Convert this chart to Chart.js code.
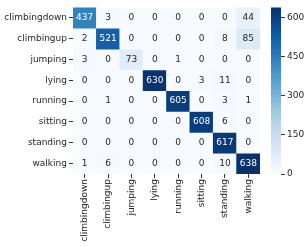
<!DOCTYPE html>
<html>
<head>
<meta charset="utf-8">
<script src="https://cdn.jsdelivr.net/npm/chart.js@4/dist/chart.umd.min.js"></script>
<style>
  body { margin: 0; background: #fff; }
  #wrap { position: relative; width: 306px; height: 247px; }
  canvas { position: absolute; top: 0; }
</style>
</head>
<body>
<div id="wrap">
  <canvas id="heat" width="306" height="247" style="left:0"></canvas>
  <canvas id="cbar" width="44" height="247" style="left:262px"></canvas>
</div>
<script>
// labels (rows = true, cols = predicted)
const classes = ["climbingdown", "climbingup", "jumping", "lying", "running", "sitting", "standing", "walking"];

// confusion matrix rows
const climbingdown = [437, 3, 0, 0, 0, 0, 0, 44];
const climbingup = [2, 521, 0, 0, 0, 0, 8, 85];
const jumping = [3, 0, 73, 0, 1, 0, 0, 0];
const lying = [0, 0, 0, 630, 0, 3, 11, 0];
const running = [0, 1, 0, 0, 605, 0, 3, 1];
const sitting = [0, 0, 0, 0, 0, 608, 6, 0];
const standing = [0, 0, 0, 0, 0, 0, 617, 0];
const walking = [1, 6, 0, 0, 0, 0, 10, 638];
const matrix = [climbingdown, climbingup, jumping, lying, running, sitting, standing, walking];

// colorbar ticks
const cbarTicks = [0, 150, 300, 450, 600];

const vmax = Math.max(...matrix.flat());
const font = { family: "DejaVu Sans", size: 9 };
const textDark = "#262626";

// matplotlib Blues
const blues = [
  [247, 251, 255], [222, 235, 247], [198, 219, 239], [158, 202, 225],
  [107, 174, 214], [66, 146, 198], [33, 113, 181], [8, 81, 156], [8, 48, 107]
];

function bluesRgb(t) {
  t = Math.min(1, Math.max(0, t));
  let p = t * (blues.length - 1);
  let i = Math.min(blues.length - 2, Math.floor(p));
  let f = p - i;
  return blues[i].map((c, k) => Math.round(c + (blues[i + 1][k] - c) * f));
}

function colorFor(v) {
  let c = bluesRgb(v / vmax);
  return `rgb(${c[0]}, ${c[1]}, ${c[2]})`;
}

// seaborn style text colour pick
function textColorFor(v) {
  let c = bluesRgb(v / vmax).map(x => {
    x = x / 255;
    return x <= 0.03928 ? x / 12.92 : Math.pow((x + 0.055) / 1.055, 2.4);
  });
  let lum = 0.2126 * c[0] + 0.7152 * c[1] + 0.0722 * c[2];
  return lum > 0.408 ? "#262626" : "#ffffff";
}

// one dataset per row, each cell is a floating bar
const datasets = matrix.map((row, r) => ({
  data: row.map(() => [r - 0.5, r + 0.5]),
  backgroundColor: row.map(colorFor),
  borderWidth: 0,
  grouped: false,
  barPercentage: 1,
  categoryPercentage: 1,
}));

// write the counts in the cells
const cellText = {
  id: "cellText",
  afterDatasetsDraw(chart) {
    const ctx = chart.ctx;
    const xs = chart.scales.x;
    const ys = chart.scales.y;
    ctx.save();
    ctx.font = `${font.size}px ${font.family}`;
    ctx.textAlign = "center";
    ctx.textBaseline = "middle";
    matrix.forEach((row, r) => {
      row.forEach((v, c) => {
        ctx.fillStyle = textColorFor(v);
        ctx.fillText(String(v), xs.getPixelForValue(c), ys.getPixelForValue(r));
      });
    });
    ctx.restore();
  }
};

new Chart(document.getElementById("heat"), {
  type: "bar",
  data: { labels: classes, datasets: datasets },
  options: {
    responsive: false,
    animation: false,
    events: [],
    layout: { padding: { top: 3, right: 46, left: 0, bottom: 0 } },
    plugins: { legend: { display: false }, tooltip: { enabled: false } },
    scales: {
      x: {
        grid: { offset: false, drawOnChartArea: false, tickLength: 4, color: "#333" },
        border: { display: false },
        ticks: { font: font, color: textDark, maxRotation: 90, minRotation: 90, autoSkip: false, padding: 1 },
        afterFit(scale) { scale.height = 73; }
      },
      y: {
        type: "linear",
        reverse: true,
        min: -0.5,
        max: 7.5,
        grid: { drawOnChartArea: false, tickLength: 4, color: "#333" },
        border: { display: false },
        ticks: {
          font: font,
          color: textDark,
          padding: 2,
          callback: (v) => classes[v]
        },
        afterBuildTicks(scale) {
          scale.ticks = classes.map((_, i) => ({ value: i }));
        },
        afterFit(scale) { scale.width = 73; }
      }
    }
  },
  plugins: [cellText]
});

// colorbar
new Chart(document.getElementById("cbar"), {
  type: "bar",
  data: {
    labels: [""],
    datasets: [{
      data: [[0, vmax]],
      borderWidth: 0,
      barPercentage: 1,
      categoryPercentage: 1,
      backgroundColor(context) {
        const area = context.chart.chartArea;
        if (!area) return colorFor(0);
        const g = context.chart.ctx.createLinearGradient(0, area.bottom, 0, area.top);
        blues.forEach((c, i) => g.addColorStop(i / (blues.length - 1), `rgb(${c[0]}, ${c[1]}, ${c[2]})`));
        return g;
      }
    }]
  },
  options: {
    responsive: false,
    animation: false,
    events: [],
    layout: { padding: { top: 2, right: 0, left: 9, bottom: 73 } },
    plugins: { legend: { display: false }, tooltip: { enabled: false } },
    scales: {
      x: { display: false },
      y: {
        position: "right",
        min: 0,
        max: vmax,
        grid: { drawOnChartArea: false, tickLength: 4, color: "#333" },
        border: { display: false },
        ticks: { font: font, color: textDark, padding: 2, includeBounds: false },
        afterBuildTicks(scale) {
          scale.ticks = cbarTicks.map(v => ({ value: v }));
        },
        afterFit(scale) { scale.width = 25; }
      }
    }
  }
});
</script>
</body>
</html>
